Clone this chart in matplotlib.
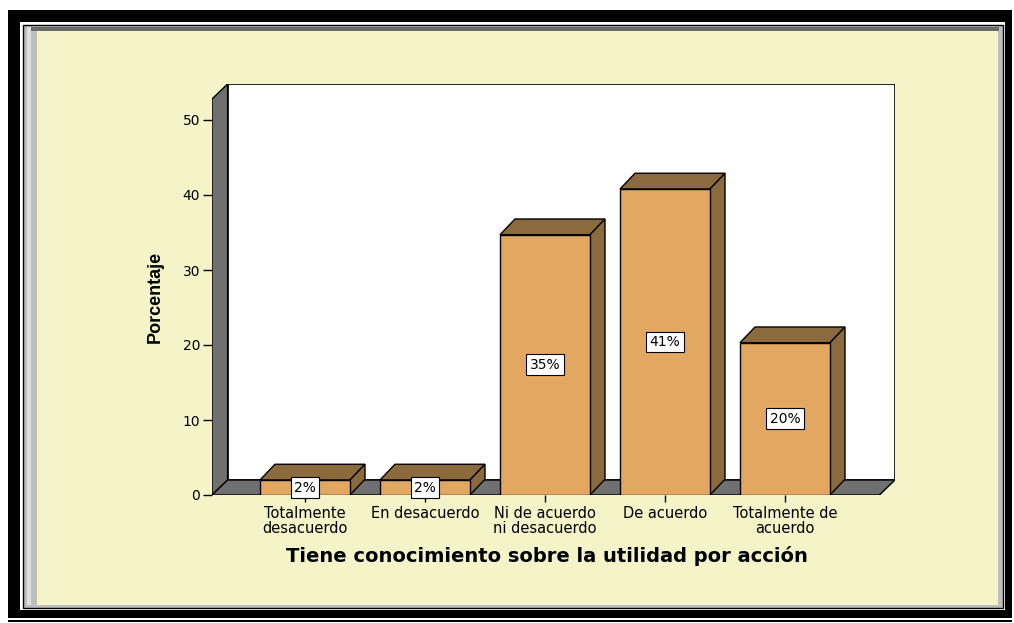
import matplotlib
matplotlib.use('Agg')
import matplotlib.pyplot as plt
from matplotlib.patches import Polygon, Rectangle

# datos
categorias = ['Totalmente\ndesacuerdo', 'En desacuerdo', 'Ni de acuerdo\nni desacuerdo',
              'De acuerdo', 'Totalmente de\nacuerdo']
porcentajes = [2.0, 2.0, 34.7, 40.8, 20.3]
yticks = [0, 10, 20, 30, 40, 50]

crema = '#F5F3C8'
frente = '#E2A862'
oscuro = '#8B6A3E'
gris = '#707070'

fig = plt.figure(figsize=(10.14, 6.23), dpi=100)
fig.patch.set_facecolor('white')

# marco de fondo (coordenadas en pixeles)
bg = fig.add_axes([0, 0, 1, 1], zorder=-1)
bg.set_xlim(0, 1014)
bg.set_ylim(623, 0)
bg.axis('off')
bg.add_patch(Rectangle((8, 10), 1004, 608, facecolor='black', edgecolor='none'))
bg.add_patch(Rectangle((20, 22), 985, 588, facecolor='white', edgecolor='none'))
bg.add_patch(Rectangle((23, 25), 980, 583, facecolor='#BEBEBE', edgecolor='black', lw=1))
bg.add_patch(Rectangle((30, 27), 969, 4, facecolor='#6A6A6A', edgecolor='none'))
bg.add_patch(Rectangle((27, 27), 4, 578, facecolor='#E0E0E0', edgecolor='none'))
bg.add_patch(Rectangle((37, 31), 961, 574, facecolor=crema, edgecolor='none'))
bg.add_patch(Rectangle((8, 620), 1004, 2, facecolor='black', edgecolor='none'))

# ejes principales
ax = fig.add_axes([212 / 1014, (623 - 495) / 623, 683 / 1014, 411 / 623])
ax.patch.set_alpha(0)
for s in ax.spines.values():
    s.set_visible(False)

x0, x1 = -0.775, -0.775 + 683 / 120
y1 = 411 / 7.5
dx, dy = 0.13, 2.0
ax.set_xlim(x0, x1)
ax.set_ylim(0, y1)

# paredes y piso
ax.add_patch(Rectangle((x0 + dx, dy), x1 - x0 - dx, y1 - dy, facecolor='white',
                       edgecolor='black', lw=1.2, zorder=1))
ax.add_patch(Polygon([(x0, 0), (x0 + dx, dy), (x0 + dx, y1), (x0, y1 - dy)],
                     facecolor=gris, edgecolor='black', lw=1, zorder=2))
ax.add_patch(Polygon([(x0, 0), (x1 - dx, 0), (x1, dy), (x0 + dx, dy)],
                     facecolor=gris, edgecolor='black', lw=1, zorder=2))

# barras 3D
pos = list(range(len(categorias)))
w = 0.75
bdx, bdy = 0.125, 2.1
ax.bar(pos, porcentajes, width=w, color=frente, edgecolor='black', lw=1, zorder=4)
for x, v in zip(pos, porcentajes):
    ax.add_patch(Polygon([(x - w / 2, v), (x + w / 2, v), (x + w / 2 + bdx, v + bdy),
                          (x - w / 2 + bdx, v + bdy)],
                         facecolor=oscuro, edgecolor='black', lw=1, zorder=3))
    ax.add_patch(Polygon([(x + w / 2, 0), (x + w / 2 + bdx, bdy), (x + w / 2 + bdx, v + bdy),
                          (x + w / 2, v)],
                         facecolor=oscuro, edgecolor='black', lw=1, zorder=3))
    ax.text(x, v / 2, f'{round(v)}%', ha='center', va='center', fontsize=10, zorder=6,
            bbox=dict(boxstyle='square,pad=0.25', facecolor='white', edgecolor='black', lw=0.8))

ax.set_yticks(yticks)
ax.set_yticklabels([str(t) for t in yticks])
ax.set_xticks(pos)
ax.set_xticklabels(categorias, fontsize=10.5, linespacing=1.0)
ax.tick_params(axis='y', direction='out', length=6.5, width=1, labelsize=10, pad=2)
ax.tick_params(axis='x', direction='out', length=5, width=1, pad=3)

ax.set_ylabel('Porcentaje', fontsize=13, fontweight='bold', family='Liberation Sans')
ax.yaxis.set_label_coords(-0.083, 0.482)
ax.yaxis.label.set_va('center')
ax.set_xlabel('Tiene conocimiento sobre la utilidad por acción', fontsize=14, fontweight='bold')
ax.xaxis.set_label_coords(0.491, -0.148)
ax.xaxis.label.set_va('center')

fig.savefig('out.png', dpi=100)
